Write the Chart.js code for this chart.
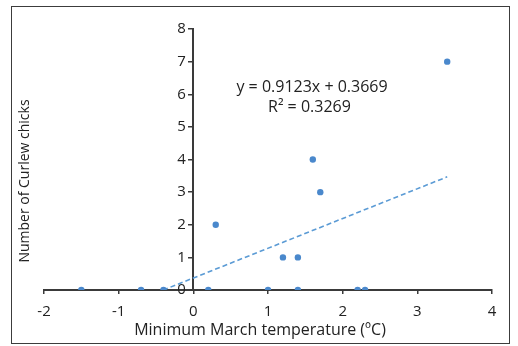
<!DOCTYPE html>
<html>
<head>
<meta charset="utf-8">
<script src="https://cdn.jsdelivr.net/npm/chart.js@4.4.1/dist/chart.umd.min.js"></script>
<style>
    html, body { margin: 0; padding: 0; background: #fff; }
    #wrap { position: relative; width: 518px; height: 346px; }
    #frame {
        position: absolute; left: 11px; top: 6px; width: 497px; height: 336px;
        border: 1px solid #3c3c3c; pointer-events: none;
    }
</style>
</head>
<body>
<div id="wrap">
    <canvas id="chart" width="518" height="346"></canvas>
    <div id="frame"></div>
</div>
<script>
// Minimum March temperature (ºC) vs number of Curlew chicks
const tempC  = [-1.5, -0.7, -0.4, 0.2, 0.3, 1.0, 1.2, 1.4, 1.4, 1.6, 1.7, 2.2, 2.3, 3.4];
const chicks = [0,    0,    0,    0,   2,   0,   1,   1,   0,   4,   3,   0,   0,   7];

// linear trendline as printed on the chart
const trendX = [-1.5, 3.4];
const trendY = [-1.0016, 3.4687];
const eqText = ["y = 0.9123x + 0.3669", "R\u00b2 = 0.3269"];
const yTitle = "Number of Curlew chicks";

const blue = "#4a88cc";
const axisColor = "#3a3a3a";
const textColor = "#222";
const font = "'Open Sans', sans-serif";

const pts = tempC.map((x, i) => ({ x: x, y: chicks[i] }));
const trend = trendX.map((x, i) => ({ x: x, y: trendY[i] }));

// equation label + vertical axis title (y axis sits at x = 0, so its title is drawn here)
const labels = {
    id: 'labels',
    afterDatasetsDraw(chart) {
        const ctx = chart.ctx;
        const sx = chart.scales.x, sy = chart.scales.y;
        ctx.save();
        ctx.fillStyle = textColor;
        ctx.font = "16px " + font;
        ctx.textBaseline = 'middle';
        ctx.textAlign = 'center';
        ctx.fillText(eqText[0], sx.getPixelForValue(1.59), sy.getPixelForValue(6.2));
        ctx.textAlign = 'left';
        ctx.fillText(eqText[1], sx.getPixelForValue(1.0), sy.getPixelForValue(5.6));

        ctx.translate(25, 181);
        ctx.rotate(-Math.PI / 2);
        ctx.textAlign = 'center';
        ctx.font = "14px " + font;
        ctx.fillText(yTitle, 0, 0);
        ctx.restore();
    }
};

new Chart(document.getElementById('chart').getContext('2d'), {
    type: 'scatter',
    data: {
        datasets: [{
            label: 'Chicks',
            data: pts,
            backgroundColor: blue,
            borderColor: blue,
            pointRadius: 3.2,
            pointBorderWidth: 0,
        }, {
            type: 'line',
            label: 'Trend',
            data: trend,
            borderColor: "#5b9bd5",
            borderWidth: 1.6,
            borderDash: [5, 3],
            pointRadius: 0,
            fill: false,
        }],
    },
    options: {
        responsive: false,
        animation: false,
        layout: { padding: { left: 44, right: 26, top: 29, bottom: 0 } },
        plugins: { legend: { display: false }, tooltip: { enabled: false } },
        scales: {
            x: {
                type: 'linear',
                position: 'bottom',
                min: -2, max: 4,
                afterFit: s => { s.height = 56; },
                ticks: { stepSize: 1, color: textColor, padding: 9, font: { family: font, size: 15 } },
                grid: { drawOnChartArea: false, tickLength: 4, color: axisColor, lineWidth: 1.5 },
                border: { color: axisColor, width: 2 },
                title: {
                    display: true, text: 'Minimum March temperature (\u00baC)\u2003', color: textColor,
                    font: { family: font, size: 16 }, padding: { top: 0, bottom: 6 },
                },
            },
            y: {
                type: 'linear',
                position: { x: 0 },
                min: 0, max: 8,
                afterFit: s => { s.width = 0; },
                ticks: {
                    stepSize: 1, color: textColor, font: { family: font, size: 15 },
                    callback: v => v + '\u2002',
                },
                grid: { drawOnChartArea: false, tickLength: 4, color: axisColor, lineWidth: 1.5 },
                border: { color: axisColor, width: 2 },
            },
        },
    },
    plugins: [labels],
});
</script>
</body>
</html>
